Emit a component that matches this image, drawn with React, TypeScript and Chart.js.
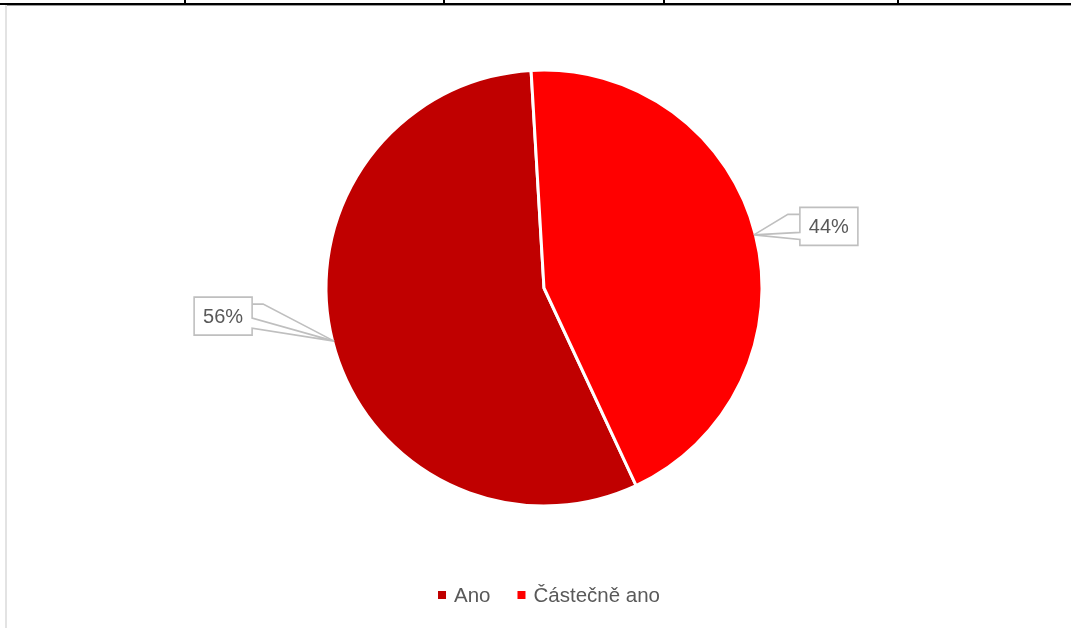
import React, { useEffect, useRef } from "react";
import { Chart, registerables } from "chart.js";

Chart.register(...registerables);

// ---- data ----
const categories = ["Ano", "Částečně ano"];
const values = [56, 44];
const percentLabels = ["56%", "44%"];
const sliceColors = ["#C00000", "#FF0000"];

// ---- decoration / layout constants ----
const W = 1071;
const H = 628;
const FONT = "'Liberation Sans', Arial, sans-serif";
const TEXT_COLOR = "#595959";
const CALLOUT_COLOR = "#bfbfbf";
const tableTickXs = [184, 443, 663, 897];
const BOX_W = 58;
const BOX_H = 38;
// callout box offset relative to the slice edge point (tip)
const calloutOffsets = [
  { dx: -140, dy: -44, side: "left" },
  { dx: 46, dy: -27.5, side: "right" },
];

const calloutPlugin = {
  id: "callouts",
  afterDatasetsDraw(chart: any) {
    const ctx = chart.ctx as CanvasRenderingContext2D;
    const meta = chart.getDatasetMeta(0);
    ctx.save();
    meta.data.forEach((arc: any, i: number) => {
      const p = arc.getProps(["x", "y", "startAngle", "endAngle", "outerRadius"], true);
      const mid = (p.startAngle + p.endAngle) / 2;
      const r = p.outerRadius - 1.5;
      const tx = p.x + Math.cos(mid) * r;
      const ty = p.y + Math.sin(mid) * r;
      const off = calloutOffsets[i];
      const L = tx + off.dx;
      const T = ty + off.dy;
      const R = L + BOX_W;
      const B = T + BOX_H;
      ctx.lineWidth = 1.6;
      ctx.strokeStyle = CALLOUT_COLOR;
      ctx.lineJoin = "miter";
      // leader line
      ctx.beginPath();
      if (off.side === "right") {
        ctx.moveTo(L, T + 7);
        ctx.lineTo(L - 12, T + 7);
      } else {
        ctx.moveTo(R, T + 7);
        ctx.lineTo(R + 11, T + 7);
      }
      ctx.lineTo(tx, ty);
      ctx.stroke();
      // callout shape
      ctx.beginPath();
      if (off.side === "right") {
        ctx.moveTo(L, T);
        ctx.lineTo(R, T);
        ctx.lineTo(R, B);
        ctx.lineTo(L, B);
        ctx.lineTo(L, T + 32);
        ctx.lineTo(tx, ty);
        ctx.lineTo(L, T + 25);
        ctx.closePath();
      } else {
        ctx.moveTo(L, T);
        ctx.lineTo(R, T);
        ctx.lineTo(R, T + 21);
        ctx.lineTo(tx, ty);
        ctx.lineTo(R, T + 31);
        ctx.lineTo(R, B);
        ctx.lineTo(L, B);
        ctx.closePath();
      }
      ctx.fillStyle = "#ffffff";
      ctx.fill();
      ctx.stroke();
      // text
      ctx.fillStyle = TEXT_COLOR;
      ctx.font = `20px ${FONT}`;
      ctx.textAlign = "center";
      ctx.textBaseline = "middle";
      ctx.fillText(percentLabels[i], (L + R) / 2, (T + B) / 2 + 1);
    });
    ctx.restore();
  },
};

const legendPlugin = {
  id: "customLegend",
  afterDraw(chart: any) {
    const ctx = chart.ctx as CanvasRenderingContext2D;
    ctx.save();
    ctx.font = `20.5px ${FONT}`;
    const marker = 8;
    const gapText = 8;
    const gapItem = 27;
    const widths = categories.map((c) => ctx.measureText(c).width);
    let total = 0;
    widths.forEach((w, i) => {
      total += marker + gapText + w + (i < widths.length - 1 ? gapItem : 0);
    });
    const centerX = 549;
    const markerCY = 595;
    const baseline = 602;
    let x = centerX - total / 2;
    categories.forEach((c, i) => {
      ctx.fillStyle = sliceColors[i];
      ctx.fillRect(x, markerCY - marker / 2, marker, marker);
      x += marker + gapText;
      ctx.fillStyle = TEXT_COLOR;
      ctx.textAlign = "left";
      ctx.textBaseline = "alphabetic";
      ctx.fillText(c, x, baseline);
      x += widths[i] + gapItem;
    });
    ctx.restore();
  },
};

export default function App() {
  const canvasRef = useRef<HTMLCanvasElement | null>(null);

  useEffect(() => {
    if (!canvasRef.current) return;
    const chart = new Chart(canvasRef.current, {
      type: "pie",
      data: {
        labels: categories,
        datasets: [
          {
            data: values,
            backgroundColor: sliceColors,
            borderColor: "#ffffff",
            borderWidth: 3,
            hoverBorderWidth: 3,
            hoverOffset: 0,
          },
        ],
      },
      options: {
        responsive: false,
        animation: false,
        devicePixelRatio: 1,
        rotation: 155,
        events: [],
        layout: { padding: { top: 68.5, bottom: 120.5, left: 17, right: 0 } },
        plugins: {
          legend: { display: false },
          tooltip: { enabled: false },
        },
      },
      plugins: [calloutPlugin, legendPlugin],
    } as any);
    return () => chart.destroy();
  }, []);

  return (
    <div
      style={{
        position: "fixed",
        left: 0,
        top: 0,
        width: W,
        height: H,
        background: "#ffffff",
        overflow: "hidden",
      }}
    >
      <canvas
        ref={canvasRef}
        width={W}
        height={H}
        style={{ position: "absolute", left: 0, top: 0, width: W, height: H }}
      />
      {/* table border remnants at the top */}
      <div style={{ position: "absolute", left: 0, top: 3, width: W, height: 2, background: "#000" }} />
      <div style={{ position: "absolute", left: 5, top: 5, width: W - 5, height: 1, background: "#9a9a9a" }} />
      {tableTickXs.map((x) => (
        <div key={x} style={{ position: "absolute", left: x, top: 0, width: 2, height: 4, background: "#000" }} />
      ))}
      {/* left frame line */}
      <div style={{ position: "absolute", left: 5, top: 5, width: 2, height: H - 5, background: "#e3e3e3" }} />
    </div>
  );
}
